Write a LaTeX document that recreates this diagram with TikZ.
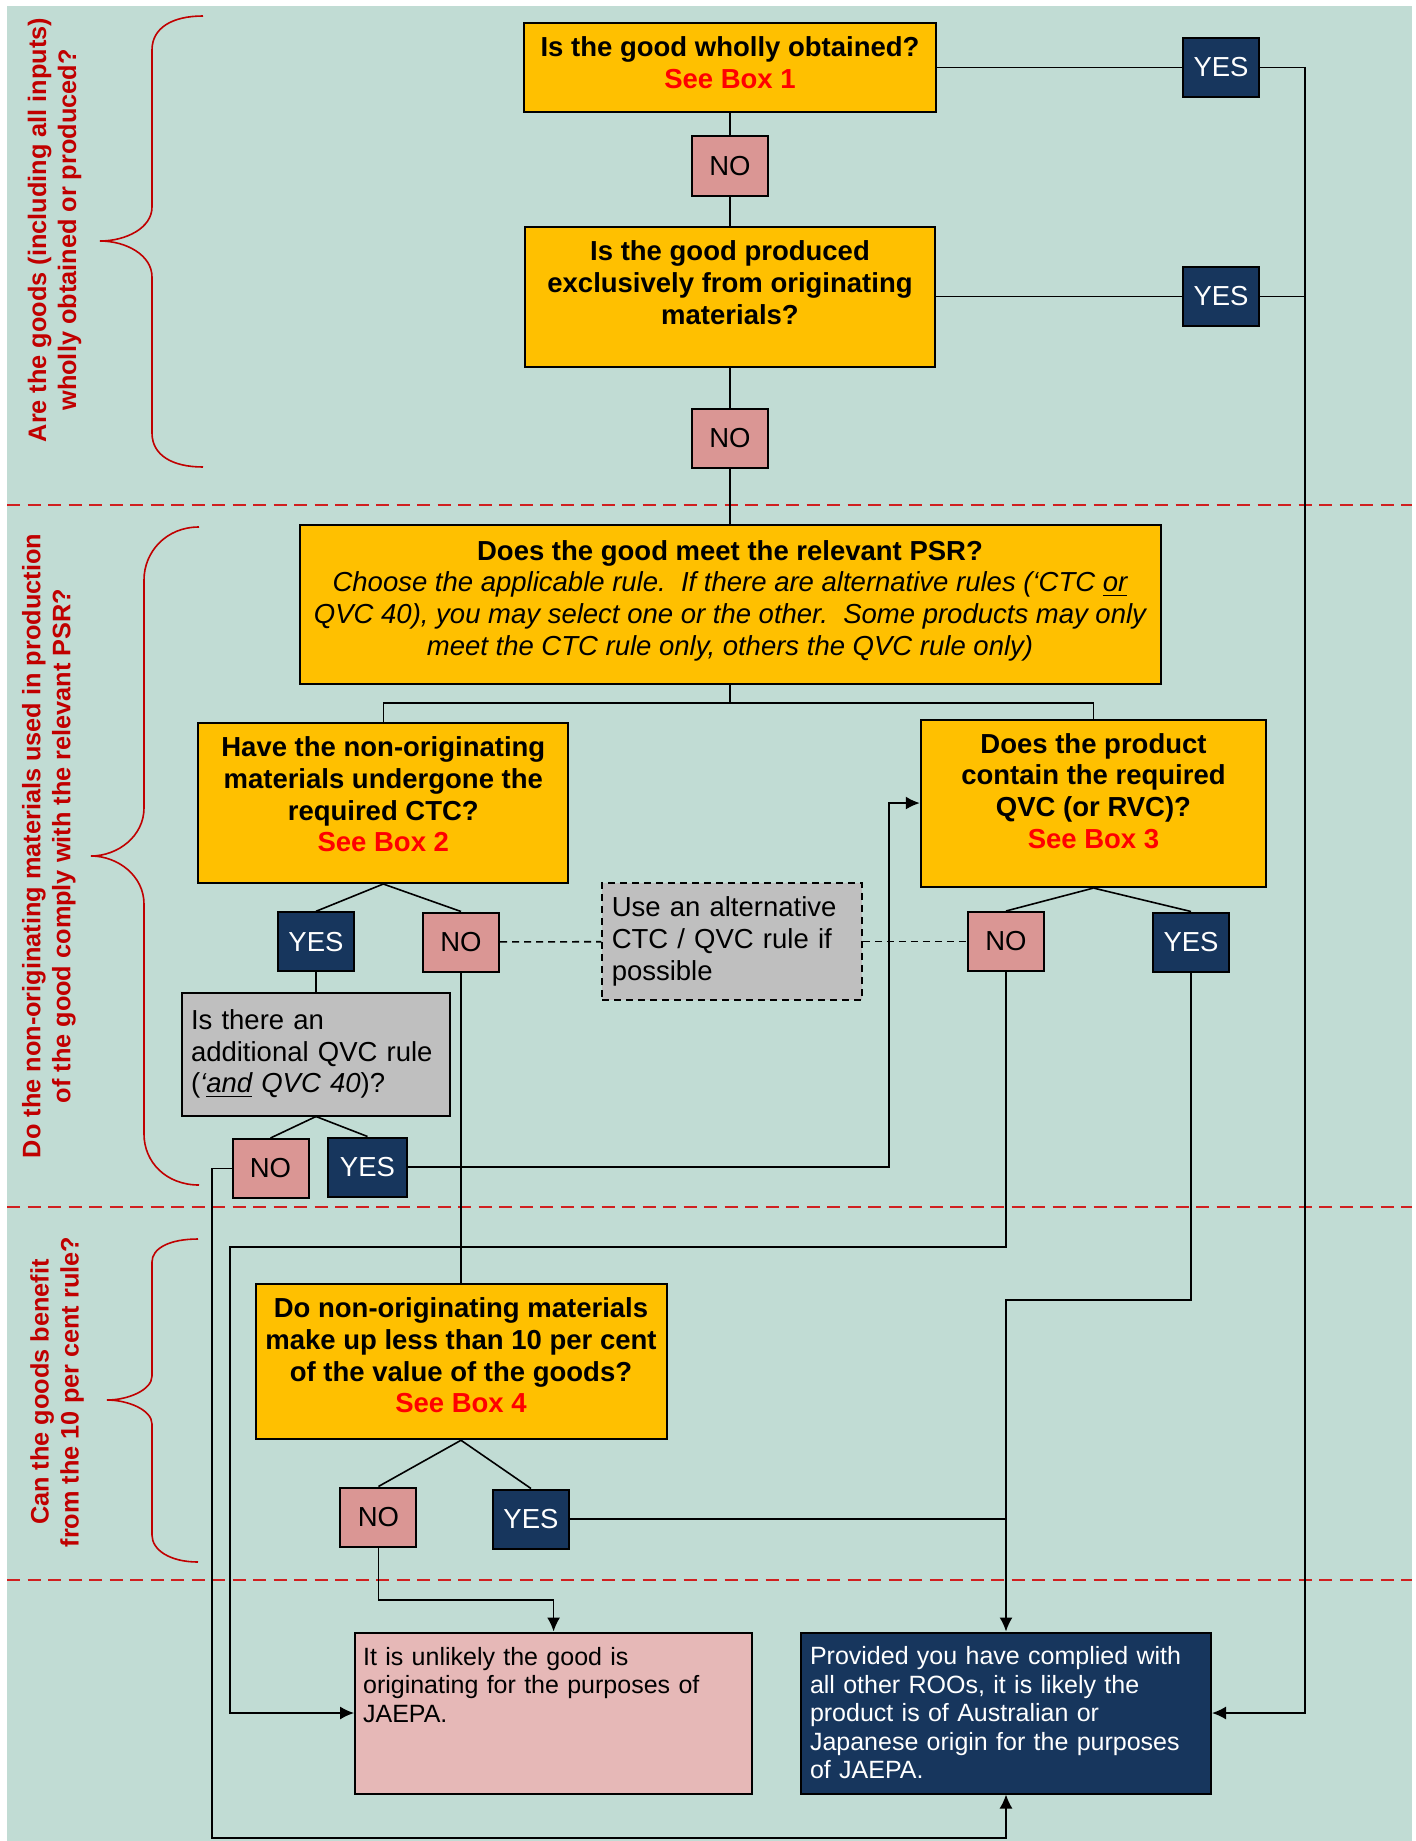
\documentclass[tikz,border=0pt]{standalone}
\usepackage{fontspec}
\setmainfont{Liberation Sans}
\usepackage{tikz}
\usetikzlibrary{arrows.meta}

\definecolor{bgteal}{RGB}{193,220,212}
\definecolor{qyellow}{RGB}{255,192,0}
\definecolor{navy}{RGB}{23,54,93}
\definecolor{nopink}{RGB}{218,150,148}
\definecolor{endpink}{RGB}{230,184,183}
\definecolor{boxgrey}{RGB}{191,191,191}
\definecolor{sidered}{RGB}{192,0,0}
\definecolor{sepred}{RGB}{208,32,32}

% raise the text of a box, the box itself stays put
\newcommand{\shiftup}[3][c]{\noindent\raisebox{#2}[\height][\depth]{\begin{tabular}{@{}#1@{}}#3\end{tabular}}}

\begin{document}
\begin{tikzpicture}[x=0.5pt,y=-0.5pt]
	\tikzstyle{qbox} = [draw, fill=qyellow, line width=1pt, inner sep=2pt, font=\fontsize{13.75}{15.85}\selectfont\bfseries]
	\tikzstyle{nobox} = [draw, fill=nopink, line width=1pt, inner sep=1pt, minimum width=38pt, minimum height=29.5pt, font=\fontsize{13.75}{15.85}\selectfont]
	\tikzstyle{yesbox} = [nobox, fill=navy, text=white]
	\tikzstyle{greybox} = [draw, fill=boxgrey, line width=1pt, align=left, font=\fontsize{13.75}{15.85}\selectfont]
	\tikzstyle{endbox} = [draw, line width=1pt, align=left, font=\fontsize{12.5}{14.25}\selectfont]
	\tikzstyle{sidelabel} = [rotate=90, align=center, text=sidered, font=\fontsize{12.65}{15}\selectfont\bfseries]
	\tikzstyle{curly} = [draw=sidered, line width=0.8pt]
	\tikzstyle{divider} = [draw=sepred, line width=1pt, dash pattern=on 6.5pt off 3.75pt]
	\tikzstyle{conn} = [line width=0.8pt]
	\tikzstyle{arrowconn} = [conn, -{Latex[length=7pt,width=6.5pt]}]
	\tikzstyle{dashconn} = [conn, dash pattern=on 3.5pt off 2.5pt]

	\useasboundingbox (0,0) rectangle (1416,1841);
	\fill[bgteal] (7,6) rectangle (1412,1841);

	\draw[divider] (7,505) -- (1412,505);
	\draw[divider] (7,1207) -- (1412,1207);
	\draw[divider] (7,1580) -- (1412,1580);

	% braces and their questions
	\draw[curly] (203,16) .. controls (172,16) and (152,28) .. (152,50) -- (152,207) .. controls (152,228) and (126,241) .. (100,241) .. controls (126,241) and (152,255) .. (152,277) -- (152,433) .. controls (152,455) and (172,467) .. (203,467);
	\draw[curly] (199,527) .. controls (166,527) and (144,552) .. (144,580) -- (144,808) .. controls (144,836) and (118,856) .. (91,856) .. controls (118,856) and (144,876) .. (144,904) -- (144,1134) .. controls (144,1162) and (166,1185) .. (199,1185);
	\draw[curly] (198,1239) .. controls (170,1239) and (152,1248) .. (152,1262) -- (152,1376) .. controls (152,1390) and (128,1400) .. (107,1400) .. controls (128,1400) and (152,1410) .. (152,1424) -- (152,1535) .. controls (152,1550) and (170,1562) .. (198,1562);

	\draw (54.5,230) node[sidelabel] (s1) {Are the goods (including all inputs)\\wholly obtained or produced?};
	\draw (49,846) node[sidelabel] (s2) {Do the non-originating materials used in production\\of the good comply with the relevant PSR?};
	\draw (57,1392) node[sidelabel] (s3) {Can the goods benefit\\from the 10 per cent rule?};

	% wholly obtained
	\draw (730,67.5) node[qbox, minimum width=206pt, minimum height=44.5pt] (n1) {\shiftup{0.5pt}{Is the good wholly obtained?\\\textcolor{red}{See Box 1}}};
	\draw (730,166) node[nobox] (n1no) {NO};
	\draw (730,296.5) node[qbox, minimum width=205pt, minimum height=70pt] (n2) {\shiftup{5.2pt}{Is the good produced\\exclusively from originating\\materials?}};
	\draw (730,438.5) node[nobox] (n2no) {NO};
	\draw (1221,67.5) node[yesbox] (n1yes) {YES};
	\draw (1221,296.5) node[yesbox] (n2yes) {YES};

	% PSR
	\draw (730,604.5) node[qbox, minimum width=430.5pt, minimum height=79.5pt] (n3) {\shiftup{1.5pt}{Does the good meet the relevant PSR?\\
		\mdseries\itshape Choose the applicable rule.\ \ If there are alternative rules (‘CTC \underline{or}\\
		\mdseries\itshape QVC 40), you may select one or the other.\ \ Some products may only\\
		\mdseries\itshape meet the CTC rule only, others the QVC rule only)}};
	\draw (383.3,803) node[qbox, minimum width=185pt, minimum height=80pt] (n31) {\shiftup{2.6pt}{Have the non-originating\\materials undergone the\\required CTC?\\\textcolor{red}{See Box 2}}};
	\draw (1093.5,803.3) node[qbox, minimum width=172.75pt, minimum height=83.75pt] (n32) {\shiftup{4.5pt}{Does the product\\contain the required\\QVC (or RVC)?\\\textcolor{red}{See Box 3}}};

	\draw (316,941.8) node[yesbox] (n31yes) {YES};
	\draw (461,942) node[nobox] (n31no) {NO};
	\draw (732,941.5) node[greybox, dash pattern=on 3.5pt off 2.5pt, minimum height=58.7pt, text width=120.25pt, inner xsep=4.75pt] (n4) {Use an alternative\\CTC / QVC rule if\\possible};
	\draw (1006,941.5) node[nobox] (n32no) {NO};
	\draw (1191,942) node[yesbox] (n32yes) {YES};

	\draw (316,1054) node[greybox, minimum height=61.5pt, text width=125pt, inner xsep=4.5pt] (n5) {Is there an\\additional QVC rule\\(\textit{‘\underline{and} QVC 40})?};
	\draw (270.5,1168.5) node[nobox] (n5no) {NO};
	\draw (367.5,1167) node[yesbox, minimum width=39.5pt] (n5yes) {YES};

	% 10 per cent
	\draw (461,1361.5) node[qbox, minimum width=205.5pt, minimum height=77.75pt] (n6) {\shiftup{1.25pt}{Do non-originating materials\\make up less than 10 per cent\\of the value of the goods?\\\textcolor{red}{See Box 4}}};
	\draw (378.4,1517) node[nobox] (n6no) {NO};
	\draw (531,1519) node[yesbox] (n6yes) {YES};

	% outcomes
	\draw (553.6,1713) node[endbox, fill=endpink, minimum height=80.5pt, text width=190.5pt, inner xsep=4pt] (n7) {\shiftup[l]{12.5pt}{It is unlikely the good is\\originating for the purposes of\\JAEPA.}};
	\draw (1006,1713) node[endbox, fill=navy, text=white, minimum height=80.5pt, text width=196pt, inner xsep=4.5pt] (n8) {Provided you have complied with\\all other ROOs, it is likely the\\product is of Australian or\\Japanese origin for the purposes\\of JAEPA.};

	\coordinate (rail) at (1305,1713);
	\coordinate (f3) at (730,703);
	\coordinate (b5) at (889,803);
	\coordinate (b6) at (212,1838);
	\coordinate (b7) at (230,1247);
	\coordinate (b8) at (1006,1300);
	\coordinate (b9) at (553.6,1600);

	\draw[conn] (n1) -- (n1no);
	\draw[conn] (n1no) -- (n2);
	\draw[conn] (n2) -- (n2no);
	\draw[conn] (n2no) -- (n3);
	\draw[conn] (n1) -- (n1yes);
	\draw[conn] (n2) -- (n2yes);
	\draw[arrowconn] (n1yes) -| (rail) -- (n8);
	\draw[conn] (n2yes) -- (n2yes -| rail);

	\draw[conn] (n3) -- (f3) -| (n31);
	\draw[conn] (f3) -| (n32);

	\draw[conn] (n31.south) -- (n31yes.north);
	\draw[conn] (n31.south) -- (n31no.north);
	\draw[conn] (n32.south) -- (n32no.north);
	\draw[conn] (n32.south) -- (n32yes.north);
	\draw[conn] (n31yes) -- (n5);
	\draw[conn] (n5.south) -- (n5no.north);
	\draw[conn] (n5.south) -- (n5yes.north);
	\draw[conn] (n6.south) -- (n6no.north);
	\draw[conn] (n6.south) -- (n6yes.north);

	\draw[dashconn] (n31no) -- (n4);
	\draw[dashconn] (n4) -- (n32no);

	\draw[conn] (n31no) -- (n6);
	\draw[arrowconn] (n5yes) -| (b5) -- (n32);
	\draw[arrowconn] (n5no) -| (b6) -| (n8);
	\draw[arrowconn] (n32no) |- (b7) |- (n7);
	\draw[arrowconn] (n32yes) |- (b8) -- (n8);
	\draw[conn] (n6yes) -- (n6yes -| b8);
	\draw[arrowconn] (n6no) |- (b9) -- (n7);
\end{tikzpicture}
\end{document}
